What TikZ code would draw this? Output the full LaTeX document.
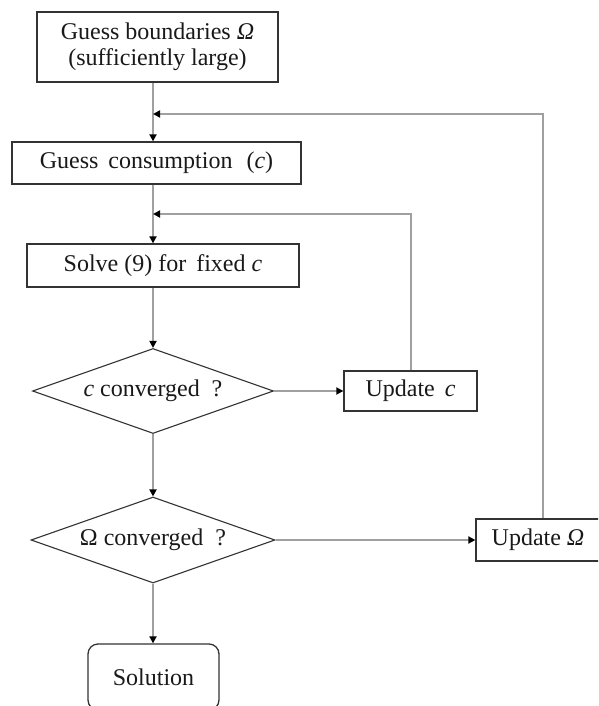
\documentclass[tikz,border=0pt]{standalone}
\usepackage{fontspec}
\setmainfont{Liberation Serif}
\usetikzlibrary{shapes.geometric,arrows.meta}
\definecolor{linegray}{HTML}{A0A0A0}
\definecolor{boxdark}{HTML}{333333}
\tikzset{
  box/.style={draw=boxdark, line width=1.3pt, fill=white, inner sep=0pt, align=center, text=black!90},
  dec/.style={diamond, draw=boxdark, line width=1.1pt, fill=white, inner sep=0pt, aspect=2.8, text=black!90},
  conn/.style={draw=linegray, line width=1.8pt, -{Triangle[color=black,length=7pt,width=7pt]}}
}
\begin{document}
\begin{tikzpicture}[x=1pt,y=-1pt,font=\fontsize{24}{26}\selectfont]
\clip (0,0) rectangle (598,706);
\fill[white] (0,0) rectangle (598,706);
\coordinate (spine) at (153,0);
\coordinate (j1) at (153,114);
\coordinate (k1) at (543,114);
\coordinate (j2) at (153,214);
\coordinate (k2) at (411,214);

\node[box, minimum width=241pt, minimum height=70pt] (b1) at (157.5,47) {Guess boundaries \textit{Ω}\\(sufficiently large)};
\node[box, minimum width=289pt, minimum height=42pt] (b2) at (156.5,163) {Guess\, consumption\, \,(\textit{c})};
\node[box, minimum width=272pt, minimum height=43pt] (b3) at (163,265.5) {Solve (9) for\, fixed \textit{c}};
\node[dec, minimum width=241pt, minimum height=85pt] (d1) at (153,391) {\textit{c} converged\ \ ?};
\node[box, minimum width=133pt, minimum height=40pt] (uc) at (410.5,391) {Update \,\textit{c}};
\node[dec, minimum width=244pt, minimum height=86pt] (d2) at (153,540) {Ω converged\ \ ?};
\node[box, minimum width=124pt, minimum height=42pt] (uo) at (538,540) {Update \textit{Ω}};
\node[box, rounded corners=10pt, minimum width=131pt, minimum height=66pt] (sol) at (153.5,677) {Solution};

\draw[conn] (b1.south -| spine) -- (b2.north -| spine);
\draw[conn] (b2.south -| spine) -- (b3.north -| spine);
\draw[conn] (b3.south -| spine) -- (d1.north);
\draw[conn] (d1.south) -- (d2.north);
\draw[conn] (d2.south) -- (sol.north -| spine);
\draw[conn] (d1.east) -- (uc.west);
\draw[conn] (d2.east) -- (uo.west);
\draw[conn] (uo.north -| k1) -- (k1) -- (j1);
\draw[conn] (uc.north -| k2) -- (k2) -- (j2);
\end{tikzpicture}
\end{document}
